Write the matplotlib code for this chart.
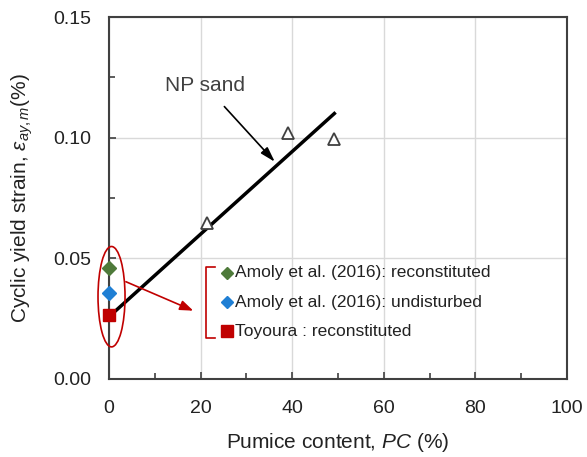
import matplotlib
matplotlib.use("Agg")
import matplotlib.pyplot as plt
from matplotlib.patches import Ellipse

plt.rcParams['font.family'] = ['Liberation Sans', 'DejaVu Sans']
plt.rcParams['mathtext.fontset'] = 'custom'
plt.rcParams['mathtext.rm'] = 'Liberation Sans'
plt.rcParams['mathtext.it'] = 'Liberation Sans:italic'

# Data
np_pc = [21.3, 39.0, 49.2]
np_strain = [0.0645, 0.102, 0.0993]
fit_pc = [1.0, 49.2]
fit_strain = [0.0275, 0.110]
amoly_recon_pc = [0.0]
amoly_recon_strain = [0.0461]
amoly_undist_pc = [0.0]
amoly_undist_strain = [0.0356]
toyoura_pc = [0.0]
toyoura_strain = [0.0264]

legend_labels = ["Amoly et al. (2016): reconstituted",
                 "Amoly et al. (2016): undisturbed",
                 "Toyoura : reconstituted"]

xticks = [0, 20, 40, 60, 80, 100]
yticks = [0.00, 0.05, 0.10, 0.15]

green = '#4E7A3A'
blue = '#1F7FD4'
red = '#C00000'
dark = '#404040'

fig = plt.figure(figsize=(5.87, 4.57), dpi=100)
ax = fig.add_axes([0.1857, 0.1707, 0.7802, 0.7921])

ax.set_xlim(0, 100)
ax.set_ylim(0, 0.15)
ax.set_xticks(xticks)
ax.set_yticks(yticks)
ax.set_xticks([10, 30, 50, 70, 90], minor=True)
ax.set_yticks([0.025, 0.075, 0.125], minor=True)
ax.set_yticklabels([f"{v:.2f}" for v in yticks])
ax.grid(True, which='major', color='#D9D9D9', linewidth=1.0)
ax.set_axisbelow(True)
for s in ax.spines.values():
    s.set_color(dark)
    s.set_linewidth(1.5)
ax.tick_params(which='both', direction='in', color=dark, width=1.2)
ax.tick_params(which='major', length=5, labelsize=14, labelcolor='#222222')
ax.tick_params(which='minor', length=4)
ax.tick_params(axis='x', which='major', pad=15)
ax.tick_params(axis='y', which='major', pad=13)

ax.set_xlabel(r'Pumice content, $\mathit{PC}$ (%)', fontsize=15, color='#222222', labelpad=10)
ax.set_ylabel(r'Cyclic yield strain, $\mathit{\varepsilon}_{\mathit{ay,m}}$(%)', fontsize=15,
              color='#222222', labelpad=13)

# fit line
ax.plot(fit_pc, fit_strain, color='black', linewidth=2.5, zorder=3)
# NP sand triangles
ax.plot(np_pc, np_strain, linestyle='none', marker='^', markersize=9,
        markerfacecolor='white', markeredgecolor=dark, markeredgewidth=1.3, zorder=4)

# points at PC=0
ax.plot(amoly_recon_pc, amoly_recon_strain, linestyle='none', marker='D', markersize=7,
        color=green, clip_on=False, zorder=5)
ax.plot(amoly_undist_pc, amoly_undist_strain, linestyle='none', marker='D', markersize=7,
        color=blue, clip_on=False, zorder=5)
ax.plot(toyoura_pc, toyoura_strain, linestyle='none', marker='s', markersize=9,
        color=red, clip_on=False, zorder=5)

# red ellipse
ell = Ellipse((0.55, 0.0341), 5.9, 0.0416, fill=False, edgecolor=red, linewidth=1.2,
              clip_on=False, zorder=6)
ax.add_patch(ell)

# red arrow
ax.annotate('', xy=(18.4, 0.0283), xytext=(3.7, 0.0403),
            arrowprops=dict(arrowstyle='-|>,head_length=0.8,head_width=0.3', color=red, lw=1.2,
                            shrinkA=0, shrinkB=0), zorder=6)

# NP sand annotation
ax.annotate('NP sand', xy=(36.2, 0.0900), xytext=(20.9, 0.1218),
            fontsize=15, color=dark, ha='center', va='center',
            arrowprops=dict(arrowstyle='-|>,head_length=0.6,head_width=0.18', color='black',
                            lw=1.2, shrinkA=9, shrinkB=0))

# custom legend
leg_x_marker = 25.7
leg_x_text = 27.6
leg_y = [0.0440, 0.0318, 0.0198]
leg_colors = [green, blue, red]
leg_markers = ['D', 'D', 's']
leg_sizes = [6, 6, 8]
for lbl, yy, c, m, ms in zip(legend_labels, leg_y, leg_colors, leg_markers, leg_sizes):
    ax.plot([leg_x_marker], [yy], marker=m, markersize=ms, color=c, linestyle='none', zorder=5)
    ax.text(leg_x_text, yy, lbl, fontsize=12.5, color='#222222', va='center', ha='left')

# bracket
ax.plot([23.1, 21.2, 21.2, 23.1], [0.0465, 0.0465, 0.0170, 0.0170], color=red, linewidth=1.2)

fig.savefig('out.png', dpi=100)
